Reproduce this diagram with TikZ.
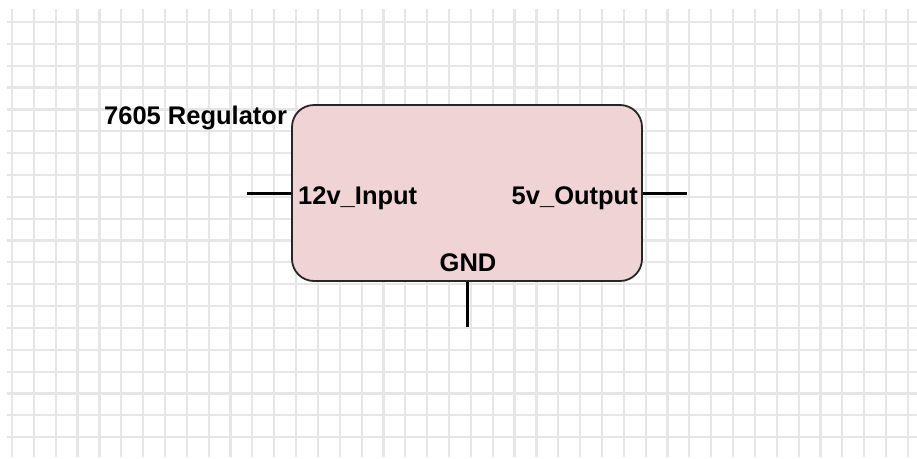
\documentclass[tikz,border=0pt]{standalone}
\usepackage{fontspec}
\setmainfont{Liberation Sans}
\usetikzlibrary{positioning}
\definecolor{gridgray}{RGB}{230,230,230}
\definecolor{regfill}{RGB}{240,211,212}
\tikzset{
  pinlabel/.style={font=\fontsize{25.5}{29}\selectfont\bfseries, inner sep=0pt},
  pinwire/.style={line width=3pt, black},
}
\begin{document}
\begin{tikzpicture}[x=1pt, y=-1pt]
    \useasboundingbox (0,0) rectangle (917,458);
    % Background grid
    \foreach \k in {0,...,41}
        \draw[gridgray, line width=2.2pt] ({12+21.85*\k},9) -- ({12+21.85*\k},457);
    \foreach \j in {0,...,19}
        \draw[gridgray, line width=2.2pt] (7,{22+21.85*\j}) -- (917,{22+21.85*\j});

    % Regulator block
    \node[draw=black!85, line width=1.8pt, fill=regfill, rounded corners=22pt,
          minimum width=350pt, minimum height=176pt, inner sep=0pt] (reg) at (467,193) {};
    \node[pinlabel, anchor=base west] (title) at (104,124) {7605 Regulator};
    \node[pinlabel, anchor=base west] (vin) at (298,204) {12v\_Input};
    \node[pinlabel, anchor=base east] (vout) at (638,204) {5v\_Output};
    \node[pinlabel, anchor=base] (gnd) at (468,271) {GND};

    % Pins
    \coordinate (inend) at (247,193);
    \coordinate (outend) at (687,193);
    \coordinate (gndend) at (467,327);
    \draw[pinwire] (inend) -- (reg.west);
    \draw[pinwire] (reg.east) -- (outend);
    \draw[pinwire] (reg.south) -- (gndend);
\end{tikzpicture}
\end{document}
